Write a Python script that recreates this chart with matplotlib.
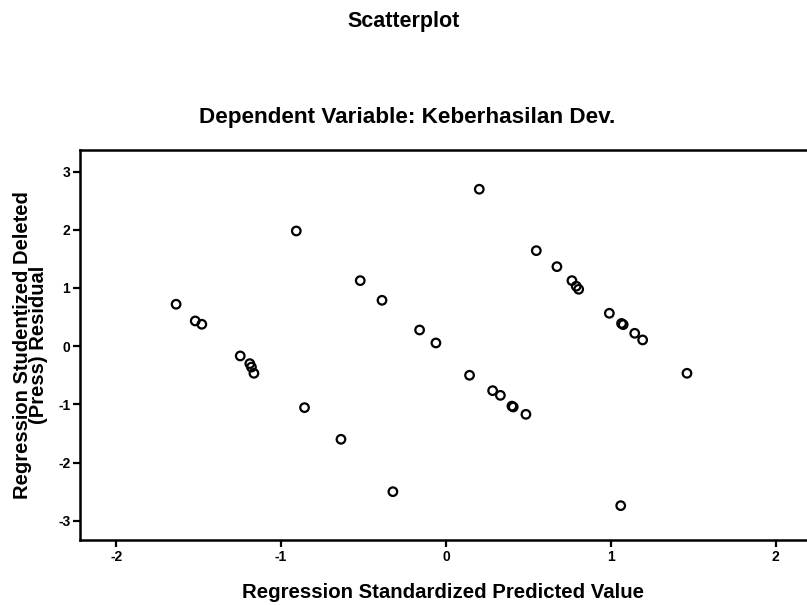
import matplotlib
matplotlib.use("Agg")
import matplotlib.pyplot as plt

plt.rcParams['font.family'] = ['Liberation Sans', 'DejaVu Sans']

# Data
pred_x = [-1.637, -1.521, -1.481, -1.248, -1.19, -1.18, -1.165,
          -0.908, -0.858, -0.637, -0.52, -0.388, -0.322, -0.160, -0.061,
          0.143, 0.202, 0.283, 0.33, 0.40, 0.408, 0.485, 0.548,
          0.673, 0.764, 0.79, 0.805, 0.991, 1.065, 1.075, 1.145, 1.193,
          1.462, 1.06]
resid_y = [0.72, 0.433, 0.376, -0.168, -0.30, -0.36, -0.466,
           1.979, -1.056, -1.60, 1.126, 0.788, -2.50, 0.278, 0.055,
           -0.50, 2.696, -0.764, -0.845, -1.03, -1.045, -1.171, 1.641,
           1.366, 1.126, 1.03, 0.977, 0.565, 0.39, 0.37, 0.221, 0.107,
           -0.466, -2.74]

x_ticks = [-2, -1, 0, 1, 2]
y_ticks = [-3, -2, -1, 0, 1, 2, 3]

title_text = "Scatterplot"
subtitle_text = "Dependent Variable: Keberhasilan Dev."
x_label = "Regression Standardized Predicted Value"
y_label = "Regression Studentized Deleted\n(Press) Residual"

W, H = 807, 605
fig = plt.figure(figsize=(W / 100, H / 100), dpi=100)
ax = fig.add_axes([80 / W, (H - 540) / H, (W - 80) / W, (540 - 150) / H])

ax.scatter(pred_x, resid_y, s=38, facecolors='none', edgecolors='black',
           linewidths=1.6, zorder=3)

ax.set_xlim(-2.22, 2.19)
ax.set_ylim(-3.33, 3.37)
ax.set_xticks(x_ticks)
ax.set_yticks(y_ticks)
ax.set_xticklabels([str(v) for v in x_ticks], fontweight='bold', fontsize=10)
ax.set_yticklabels([str(v) for v in y_ticks], fontweight='bold', fontsize=10)
ax.tick_params(axis='both', direction='out', length=5, width=1.6, color='black', pad=2)

for side in ['top', 'left', 'bottom']:
    ax.spines[side].set_linewidth(1.8)
    ax.spines[side].set_color('black')
ax.spines['right'].set_visible(False)

ax.set_xlabel(x_label, fontweight='bold', fontsize=14.7, labelpad=14)
ax.set_ylabel(y_label, fontweight='bold', fontsize=14.5, labelpad=7, linespacing=0.8)

fig.text(404 / W, 1 - 22 / H, title_text, ha='center', va='center',
         fontweight='bold', fontsize=15.5)
fig.text(407 / W, 1 - 118 / H, subtitle_text, ha='center', va='center',
         fontweight='bold', fontsize=16.2)

fig.savefig("out.png", dpi=100)
